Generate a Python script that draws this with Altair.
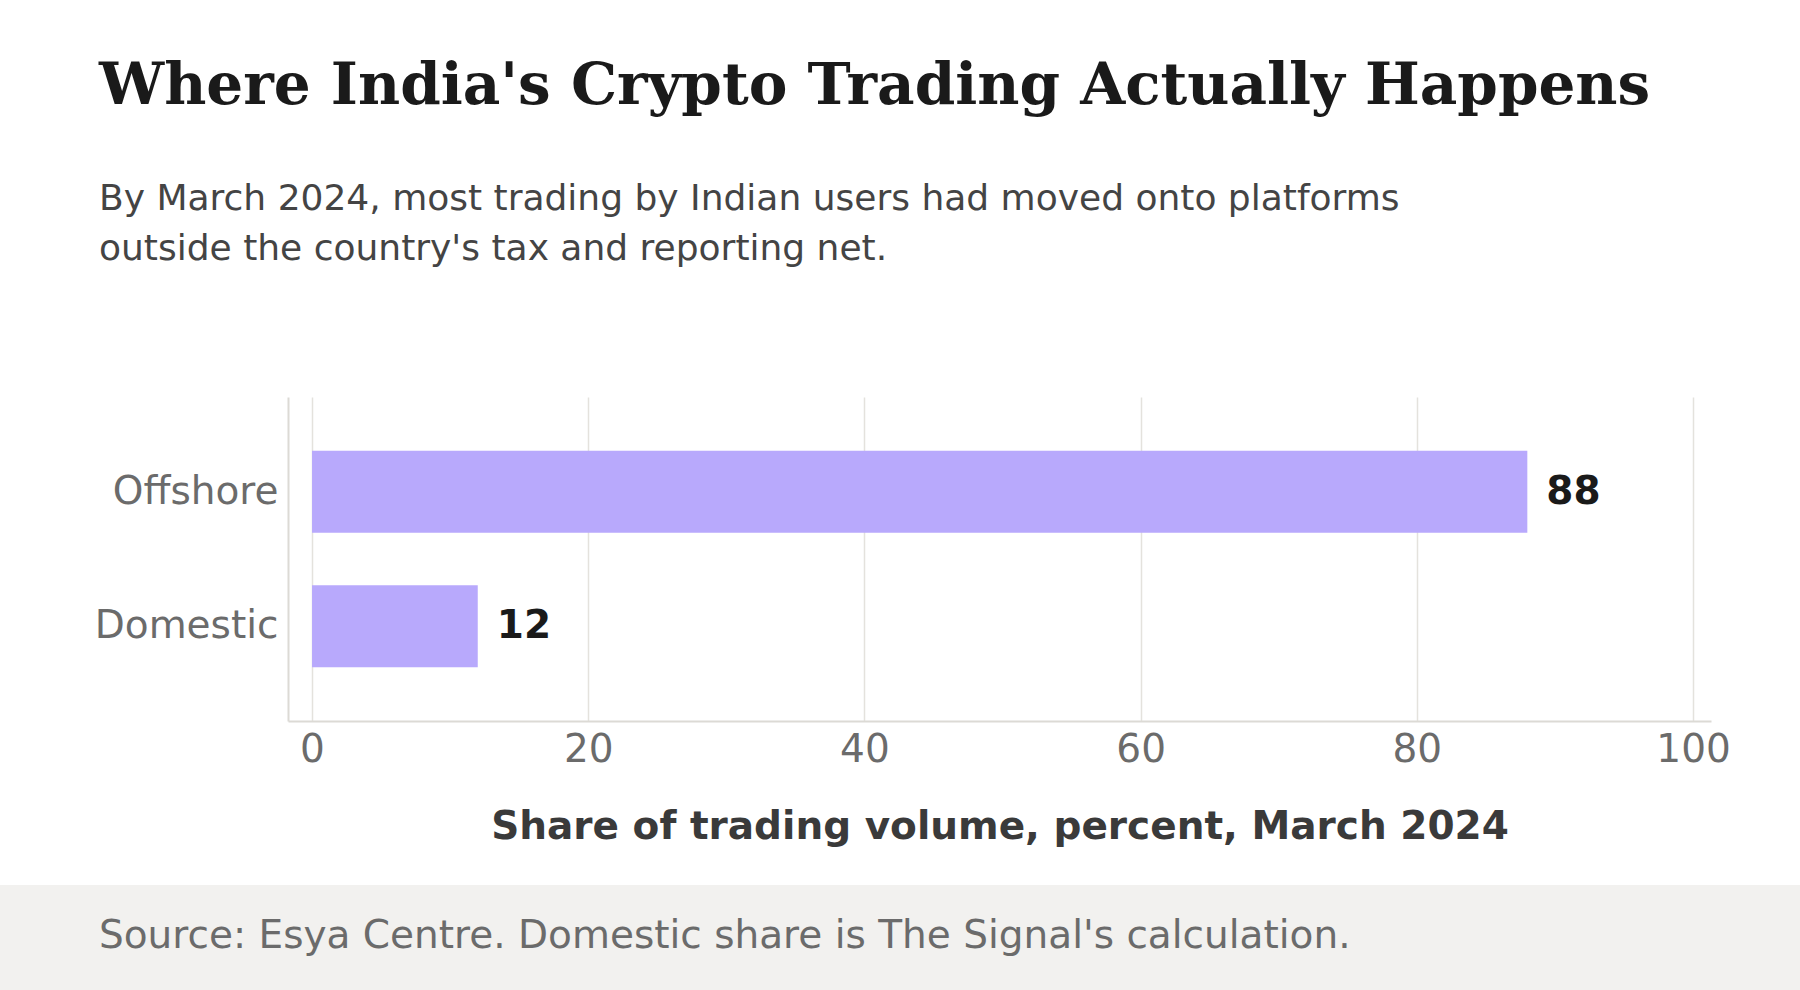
import altair as alt
import pandas as pd

categories = ["Offshore", "Domestic"]
shares = [88, 12]
x_ticks = [0, 20, 40, 60, 80, 100]

title_text = "Where India's Crypto Trading Actually Happens"
subtitle_lines = [
    "By March 2024, most trading by Indian users had moved onto platforms",
    "outside the country's tax and reporting net.",
]
x_title = "Share of trading volume, percent, March 2024"
source_text = "Source: Esya Centre. Domestic share is The Signal's calculation."

df = pd.DataFrame({"platform": categories, "share": shares})

W, H = 1423, 324
PAD_L, PAD_T, PAD_R, PAD_B = 288, 397, 89, 269

x_scale = alt.Scale(domain=[-1.74, 101.3], nice=False, zero=False)
y_scale = alt.Scale(paddingInner=0.39, paddingOuter=0.4)

base = alt.Chart(df)

bars = base.mark_bar(color="#b8a9fc").encode(
    x=alt.X(
        "share:Q",
        scale=x_scale,
        axis=alt.Axis(
            values=x_ticks,
            title=x_title,
            grid=True,
            gridColor="#e4e2dd",
            gridWidth=1.5,
            ticks=False,
            domainColor="#dcdad5",
            domainWidth=2,
            labelFont="DejaVu Sans",
            labelFontSize=39,
            labelColor="#6b6b6b",
            labelPadding=9,
            titleFont="DejaVu Sans",
            titleFontSize=39,
            titleFontWeight="bold",
            titleColor="#3a3a3a",
            titlePadding=38,
        ),
    ),
    y=alt.Y(
        "platform:N",
        sort=categories,
        scale=y_scale,
        axis=alt.Axis(
            title=None,
            grid=False,
            ticks=False,
            domainColor="#dcdad5",
            domainWidth=2,
            labelFont="DejaVu Sans",
            labelFontSize=39,
            labelColor="#6b6b6b",
            labelPadding=10,
            labelLimit=400,
        ),
    ),
)

labels = base.mark_text(
    align="left",
    baseline="middle",
    dx=19,
    font="DejaVu Sans",
    fontSize=39,
    fontWeight="bold",
    color="#1a1a1a",
).encode(
    x=alt.X("share:Q", scale=x_scale),
    y=alt.Y("platform:N", sort=categories, scale=y_scale),
    text=alt.Text("share:Q"),
)

foot_df = pd.DataFrame({"note": [source_text]})
footer_bg = alt.Chart(foot_df).mark_rect(color="#f2f1ef").encode(
    x=alt.value(-PAD_L),
    x2=alt.value(1800 - PAD_L),
    y=alt.value(885 - PAD_T),
    y2=alt.value(990 - PAD_T),
)
footer_text = alt.Chart(foot_df).mark_text(
    align="left",
    baseline="alphabetic",
    font="DejaVu Sans",
    fontSize=39,
    color="#6b6b6b",
).encode(
    x=alt.value(99 - PAD_L),
    y=alt.value(948 - PAD_T),
    text="note:N",
)

chart = alt.layer(footer_bg, bars, labels, footer_text).properties(
    width=W,
    height=H,
    autosize=alt.AutoSizeParams(type="none"),
    padding={"left": PAD_L, "top": PAD_T, "right": PAD_R, "bottom": PAD_B},
    background="white",
    title=alt.TitleParams(
        text=title_text,
        subtitle=subtitle_lines,
        anchor="start",
        frame="group",
        dx=99 - PAD_L,
        offset=130,
        font="DejaVu Serif",
        fontSize=58,
        fontWeight="bold",
        color="#1a1a1a",
        subtitleFont="DejaVu Sans",
        subtitleFontSize=36,
        subtitleColor="#444444",
        subtitleLineHeight=50.5,
        subtitlePadding=66,
    ),
).configure_view(strokeWidth=0)

chart.save("out.html", embed_options={"renderer": "svg", "actions": False})
